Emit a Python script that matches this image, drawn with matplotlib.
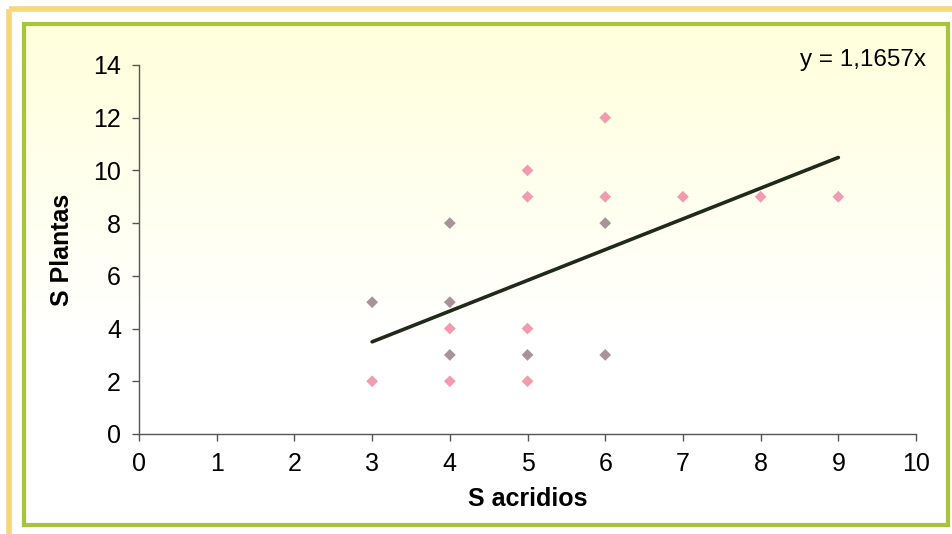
import matplotlib.pyplot as plt
import numpy as np
from matplotlib.patches import Rectangle

plt.rcParams['font.family'] = ['Liberation Sans', 'DejaVu Sans']

# data
s_acridios = [3, 3, 4, 4, 4, 4, 4, 5, 5, 5, 5, 5, 6, 6, 6, 6, 7, 8, 9]
s_plantas = [5, 2, 8, 5, 4, 3, 2, 10, 9, 4, 3, 2, 12, 9, 8, 3, 9, 9, 9]
# points drawn darker (overlapping duplicates in the original)
dark_pts = [(3, 5), (4, 8), (4, 5), (4, 3), (5, 3), (6, 8), (6, 3)]
slope = 1.1657
trend_x = [3, 9]
xticks = list(range(0, 11))
yticks = list(range(0, 15, 2))

fig = plt.figure(figsize=(9.53, 5.34), dpi=100)
fig.patch.set_facecolor('white')

# background: outer orange frame, green box with soft yellow gradient
bg = fig.add_axes([0, 0, 1, 1], zorder=0)
bg.set_xlim(0, 953)
bg.set_ylim(534, 0)
bg.axis('off')
grad = np.linspace(0, 1, 256).reshape(-1, 1)
grad = np.clip(grad * 1.6, 0, 1)
top = np.array([1.0, 1.0, 0.86])
bot = np.array([1.0, 1.0, 1.0])
img = top[None, None, :] * (1 - grad[:, :, None]) + bot[None, None, :] * grad[:, :, None]
bg.imshow(img, extent=[24, 948, 525, 24], aspect='auto', zorder=0)
bg.add_patch(Rectangle((9, 9), 950, 530, fill=False, edgecolor='#f7d77a', lw=4, zorder=1))
bg.add_patch(Rectangle((24, 24), 924, 501, fill=False, edgecolor='#a8c43c', lw=3, zorder=2))

ax = fig.add_axes([0.1459, 0.1873, 0.8153, 0.691], zorder=1)
ax.patch.set_alpha(0)

cols = ['#a8939b' if (x, y) in dark_pts else '#f29bb0'
        for x, y in zip(s_acridios, s_plantas)]
ax.scatter(s_acridios, s_plantas, marker='D', s=36, c=cols, edgecolors='none', zorder=3)
tx = np.array(trend_x)
ax.plot(tx, slope * tx, color='#1f2a1a', lw=2.6, solid_capstyle='round', zorder=4)

ax.set_xlim(0, 10)
ax.set_ylim(0, 14)
ax.set_xticks(xticks)
ax.set_yticks(yticks)
for s in ['top', 'right']:
    ax.spines[s].set_visible(False)
for s in ['left', 'bottom']:
    ax.spines[s].set_color('#555555')
    ax.spines[s].set_linewidth(1.0)
ax.tick_params(direction='out', length=5, width=1, colors='#555555',
               labelcolor='black', labelsize=18, pad=8)
ax.set_xlabel('S acridios', fontsize=18, fontweight='bold', labelpad=8)
ax.set_ylabel('S Plantas', fontsize=18, fontweight='bold', labelpad=14)

fig.text(0.972, 0.888, 'y = 1,1657x', fontsize=17.5, ha='right', va='center')

fig.savefig('out.png', dpi=100)
